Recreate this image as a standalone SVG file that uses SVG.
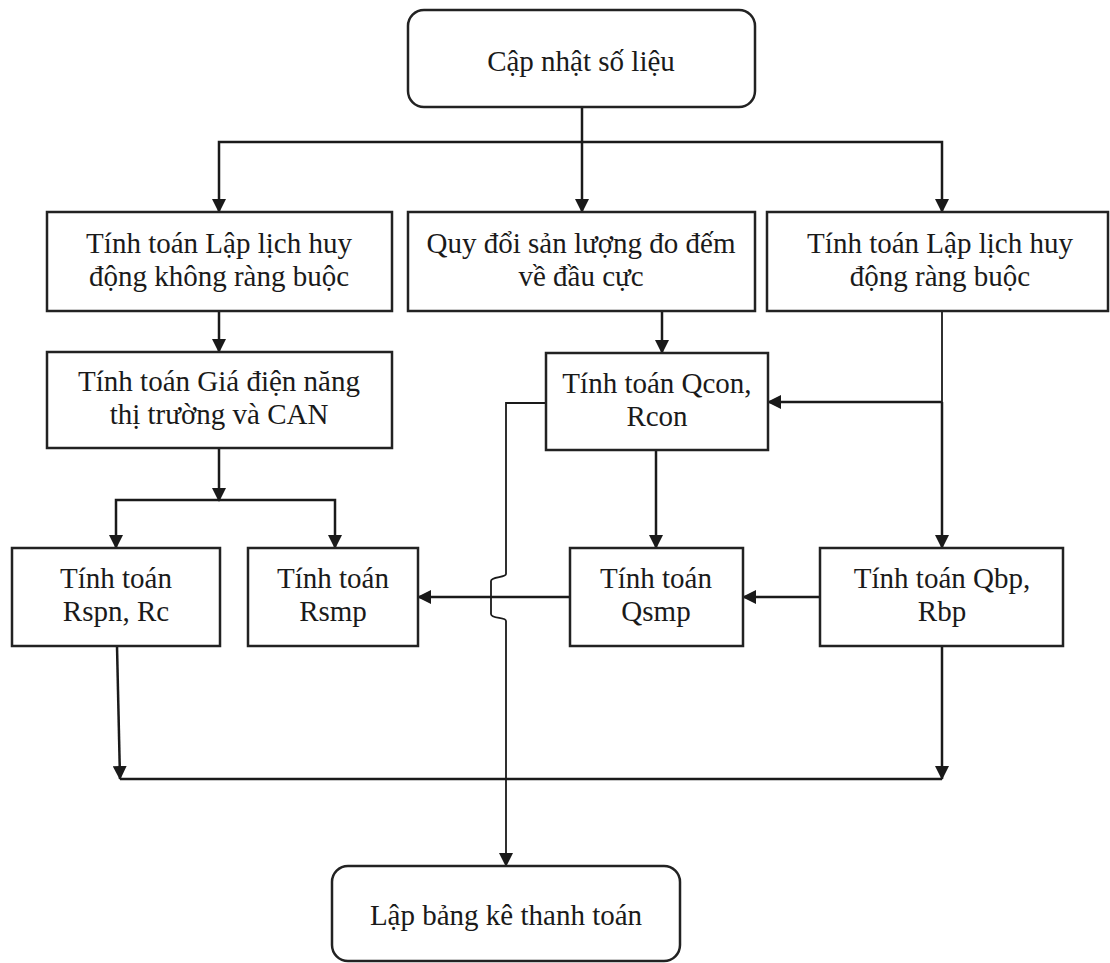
<svg xmlns="http://www.w3.org/2000/svg" width="1110" height="963" viewBox="0 0 1110 963">
<style>
.box{fill:#fff;stroke:#222;stroke-width:2.5}
.t{font-family:"Liberation Serif","Times New Roman",serif;font-size:29px;fill:#1a1a1a;text-anchor:middle}
.c{fill:none;stroke:#1a1a1a;stroke-width:2.5}
.thin{fill:none;stroke:#1a1a1a;stroke-width:1.8}
</style>
<defs>
<marker id="ah" markerUnits="userSpaceOnUse" markerWidth="14" markerHeight="14" refX="13" refY="7" orient="auto">
<path d="M0,0 L14,7 L0,14 z" fill="#1a1a1a"/>
</marker>
</defs>
<rect width="1110" height="963" fill="#fff"/>
<g id="connectors">
<path class="c" d="M582,107 V212" marker-end="url(#ah)"/>
<path class="c" d="M582,142 H219 V212" marker-end="url(#ah)"/>
<path class="c" d="M582,142 H942 V212" marker-end="url(#ah)"/>
<path class="c" d="M219,311 V352" marker-end="url(#ah)"/>
<path class="c" d="M219,448 V501" marker-end="url(#ah)"/>
<path class="c" d="M219,500 H116 V548" marker-end="url(#ah)"/>
<path class="c" d="M219,500 H335 V548" marker-end="url(#ah)"/>
<path class="c" d="M662,311 V353" marker-end="url(#ah)"/>
<path class="thin" d="M942,311 V402"/>
<path class="c" d="M942,402 V548" marker-end="url(#ah)"/>
<path class="c" d="M942,402 H768" marker-end="url(#ah)"/>
<path class="c" d="M656,450 V548" marker-end="url(#ah)"/>
<path class="c" d="M820,597 H743" marker-end="url(#ah)"/>
<path class="c" d="M570,597 H418" marker-end="url(#ah)"/>
<path class="c" d="M117,646 L120,779" marker-end="url(#ah)"/>
<path class="c" d="M942,646 V779" marker-end="url(#ah)"/>
<path class="c" d="M120,779 H942"/>
<path class="thin" d="M546,403 H506 V574 C506,578 491,576 491,581 V614 C491,619 506,617 506,621 V866" marker-end="url(#ah)"/>
</g>
<g id="n-update">
<rect class="box" x="408" y="10" width="347" height="97" rx="16"/>
<text class="t" x="581" y="71">Cập nhật số liệu</text>
</g>
<g id="n-unconstrained">
<rect class="box" x="47" y="212" width="345" height="99"/>
<text class="t" x="219" y="253">Tính toán Lập lịch huy</text>
<text class="t" x="219" y="286">động không ràng buộc</text>
</g>
<g id="n-convert">
<rect class="box" x="408" y="212" width="347" height="99"/>
<text class="t" x="581" y="253">Quy đổi sản lượng đo đếm</text>
<text class="t" x="581" y="286">về đầu cực</text>
</g>
<g id="n-constrained">
<rect class="box" x="767" y="212" width="341" height="99"/>
<text class="t" x="940" y="253">Tính toán Lập lịch huy</text>
<text class="t" x="940" y="286">động ràng buộc</text>
</g>
<g id="n-price">
<rect class="box" x="47" y="352" width="345" height="96"/>
<text class="t" x="219" y="391">Tính toán Giá điện năng</text>
<text class="t" x="219" y="424">thị trường và CAN</text>
</g>
<g id="n-qcon">
<rect class="box" x="546" y="353" width="222" height="97"/>
<text class="t" x="657" y="393">Tính toán Qcon,</text>
<text class="t" x="657" y="426">Rcon</text>
</g>
<g id="n-rspn">
<rect class="box" x="12" y="548" width="208" height="98"/>
<text class="t" x="116" y="588">Tính toán</text>
<text class="t" x="116" y="621">Rspn, Rc</text>
</g>
<g id="n-rsmp">
<rect class="box" x="248" y="548" width="170" height="98"/>
<text class="t" x="333" y="588">Tính toán</text>
<text class="t" x="333" y="621">Rsmp</text>
</g>
<g id="n-qsmp">
<rect class="box" x="570" y="548" width="173" height="98"/>
<text class="t" x="656" y="588">Tính toán</text>
<text class="t" x="656" y="621">Qsmp</text>
</g>
<g id="n-qbp">
<rect class="box" x="820" y="548" width="243" height="98"/>
<text class="t" x="942" y="588">Tính toán Qbp,</text>
<text class="t" x="942" y="621">Rbp</text>
</g>
<g id="n-statement">
<rect class="box" x="332" y="866" width="348" height="95" rx="16"/>
<text class="t" x="506" y="925">Lập bảng kê thanh toán</text>
</g>
</svg>
